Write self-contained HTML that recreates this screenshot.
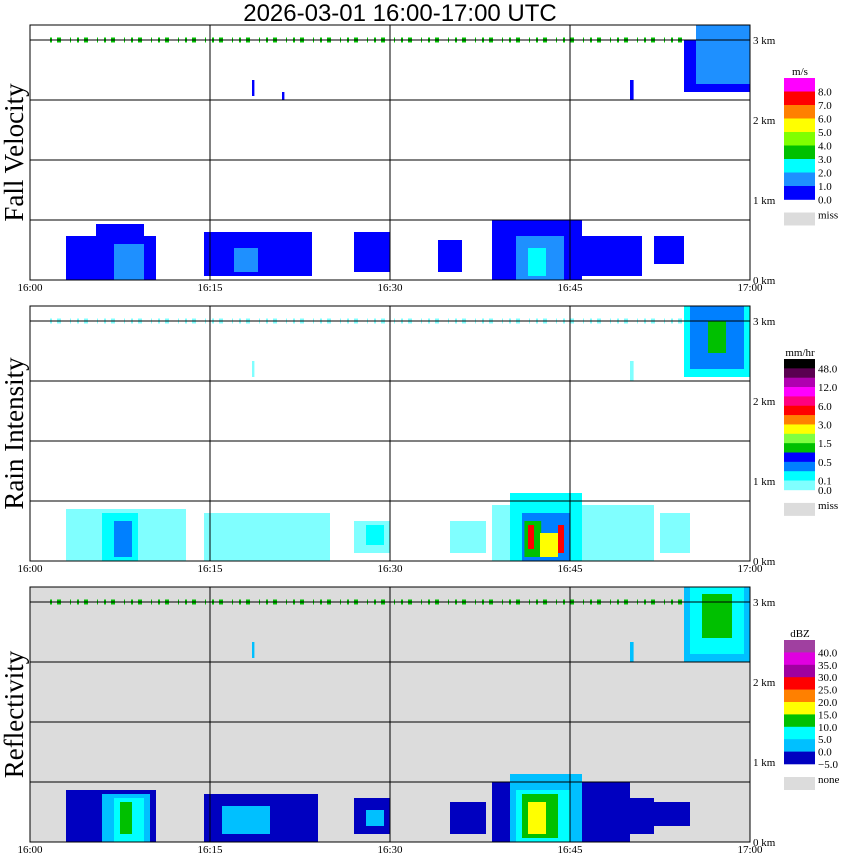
<!DOCTYPE html>
<html><head><meta charset="utf-8"><style>
body{margin:0;background:#fff;}
svg{display:block;font-family:"Liberation Serif",serif;}
</style></head><body>
<svg id="chart" width="850" height="868" viewBox="0 0 850 868"></svg>
<script>
// ---- data ----
const timeTicks = ["16:00","16:15","16:30","16:45","17:00"];
const kmTicks = [0,1,2,3];
const panelTitles = ["Fall Velocity","Rain Intensity","Reflectivity"];
// blobs: [startMin, endMin, baseKm, topKm, value]
const fallVelocity = [
 [3,10.5,0,0.55,0.5],[5.5,9.5,0.05,0.7,0.5],[7,9.5,0,0.45,1.5],
 [14.5,23.5,0.05,0.6,0.5],[17,19,0.1,0.4,1.5],[27,30,0.1,0.6,0.5],
 [34,36,0.1,0.5,0.5],[38.5,46,0,0.75,0.5],[40.5,44.5,0,0.55,1.5],[41.5,43,0.05,0.4,2.5],
 [46,51,0.05,0.55,0.5],[52,54.5,0.2,0.55,0.5],
 [54.5,60,2.35,3.0,0.5],[55.5,60,2.45,3.2,1.5],
 [18.5,18.7,2.3,2.5,0.5],[21,21.2,2.25,2.35,0.5],[50,50.3,2.25,2.5,0.5]
];
const rainRate = [
 [3,13,0,0.65,0.05],[6,9,0,0.6,0.15],[7,8.5,0.05,0.5,0.3],
 [14.5,25,0,0.6,0.05],[27,30,0.1,0.5,0.05],[28,29.5,0.2,0.45,0.15],
 [35,38,0.1,0.5,0.05],[38.5,52,0,0.7,0.05],[40,46,0,0.85,0.15],[41,45,0,0.6,0.4],
 [41.2,42.6,0.05,0.5,1.2],[41.5,42,0.15,0.45,4],[42.5,44,0.05,0.35,2.5],[44,44.5,0.1,0.45,4],
 [52.5,55,0.1,0.6,0.05],
 [54.5,60,2.3,3.2,0.15],[55,59.5,2.4,3.2,0.4],[56.5,58,2.6,3,1.2],
 [18.5,18.7,2.3,2.5,0.05],[50,50.3,2.25,2.5,0.05]
];
const reflectivity = [
 [3,10.5,0,0.65,-2],[6,10,0,0.6,3],[7,9.5,0,0.55,7],[7.5,8.5,0.1,0.5,12],
 [14.5,24,0,0.6,-2],[16,20,0.1,0.45,3],[27,30,0.1,0.55,-2],[28,29.5,0.2,0.4,3],
 [35,38,0.1,0.5,-2],[38.5,50,0,0.75,-2],[40,46,0,0.85,3],[40.5,45,0,0.65,7],
 [41,44,0.05,0.6,12],[41.5,43,0.1,0.5,17],[46,52,0.1,0.55,-2],[52,55,0.2,0.5,-2],
 [54.5,60,2.25,3.2,3],[55,59.5,2.35,3.2,7],[56,58.5,2.55,3.1,12],
 [18.5,18.7,2.3,2.5,3],[50,50.3,2.25,2.5,3]
];
const fvColors = ["#0000ff","#1e90ff","#00ffff","#00c000","#80ff00","#ffff00","#ff8000","#ff0000","#ff00ff"];
const fvBounds = [0,1,2,3,4,5,6,7,8];
const fvLabels = ["8.0","7.0","6.0","5.0","4.0","3.0","2.0","1.0","0.0"];
const rrColors = ["#80ffff","#00ffff","#0080ff","#0000ff","#00c000","#80ff40","#ffff00","#ff8000","#ff0000","#ff0080","#ff00ff","#b000b0","#5a0050","#000000"];
const rrBounds = [0,0.1,0.25,0.5,1,1.5,2,3,4,6,8,12,24,48];
const rrLabels = ["48.0","","12.0","","6.0","","3.0","","1.5","","0.5","","0.1","0.0"];
const dbzColors = ["#0000c0","#00c0ff","#00ffff","#00c000","#ffff00","#ff8000","#ff0000","#a000a0","#e000e0","#a040a0"];
const dbzBounds = [-5,0,5,10,15,20,25,30,35,40];
const dbzLabels = ["40.0","35.0","30.0","25.0","20.0","15.0","10.0","5.0","0.0","\u22125.0"];

// ---- geometry ----
const svg = document.getElementById('chart');
const NS = "http://www.w3.org/2000/svg";
const X0 = 30, X1 = 750, PH = 255;
const tops = [25,306,587];
const xScale = m => X0 + m*(X1-X0)/60;
const yScale = (km, top) => top + PH - km*80;
function mk(tag, attrs, parent){const e=document.createElementNS(NS,tag);for(const k in attrs)e.setAttribute(k,attrs[k]);(parent||svg).appendChild(e);return e;}
function colorFor(v, bounds, colors){let i=0;for(let k=0;k<bounds.length;k++) if(v>=bounds[k]) i=k;return colors[i];}

const title = mk('text',{x:400,y:21,'text-anchor':'middle','font-size':24,'font-family':'"Liberation Sans",sans-serif'});
title.textContent = "2026-03-01   16:00-17:00 UTC";
title.setAttribute('xml:space','preserve');



const datasets = [[fallVelocity,fvBounds,fvColors],[rainRate,rrBounds,rrColors],[reflectivity,dbzBounds,dbzColors]];
const bars = [
 {colors:fvColors,labels:fvLabels,unit:"m/s",miss:"miss",x:784,y:78,h:13.5,name:'fall-velocity'},
 {colors:rrColors,labels:rrLabels,unit:"mm/hr",miss:"miss",x:784,y:359,h:9.35,name:'rain-intensity'},
 {colors:dbzColors,labels:dbzLabels,unit:"dBZ",miss:"none",x:784,y:640,h:12.4,name:'reflectivity'}
];
const speckColors = ["#00c000","#80ffff","#00c000"];

tops.forEach((top,p)=>{
  const g = mk('g',{});
  
  
  const bg = mk('rect',{x:X0,y:top,width:X1-X0,height:PH,fill:p===2?'#dcdcdc':'#fff'},g);
  
  
  const [data,bounds,colors] = datasets[p];
  data.forEach(d=>{
    const x=xScale(d[0]), x2=xScale(d[1]), y=yScale(d[3],top), y2=yScale(d[2],top);
    const r = mk('rect',{x:x,y:Math.max(y,top),width:x2-x,height:y2-Math.max(y,top),fill:colorFor(d[4],bounds,colors)},g);
    
    
  });
  const sp = mk('line',{x1:X0+20,x2:X1-60,y1:top+15,y2:top+15,stroke:speckColors[p],'stroke-width':5,'stroke-dasharray':'2 5 4 9 1 6'},g);
  
  
  [15,75,135,195].forEach(off=>{
    const l = mk('line',{x1:X0,x2:X1,y1:top+off,y2:top+off,stroke:'#000','stroke-width':1},g);
    
    
  });
  [1,2,3].forEach(i=>{
    const xx = xScale(i*15);
    const l = mk('line',{x1:xx,x2:xx,y1:top,y2:top+PH,stroke:'#000','stroke-width':1},g);
    
    
  });
  const fr = mk('rect',{x:X0,y:top,width:X1-X0,height:PH,fill:'none',stroke:'#000','stroke-width':1},g);
  
  
  timeTicks.forEach((t,i)=>{
    const tx = mk('text',{x:xScale(i*15),y:top+PH+11,'text-anchor':'middle','font-size':11},g);
    tx.textContent=t;
    
    
  });
  kmTicks.forEach(k=>{
    const tx = mk('text',{x:X1+3,y:yScale(k,top)+4,'font-size':11},g);
    tx.textContent=k+" km";
    
    
  });
  const yl = mk('text',{x:0,y:0,'text-anchor':'middle','font-size':27,transform:`translate(23,${top+PH/2}) rotate(-90)`},g);
  yl.textContent = panelTitles[p];
  
  
  const b = bars[p];
  const cg = mk('g',{},g);
  
  
  const n = b.colors.length;
  const ut = mk('text',{x:b.x+16,y:b.y-3,'text-anchor':'middle','font-size':11},cg);
  ut.textContent=b.unit;
  
  
  for(let i=0;i<n;i++){
    const c = b.colors[n-1-i];
    const r = mk('rect',{x:b.x,y:b.y+i*b.h,width:31,height:b.h+0.3,fill:c},cg);
    
    
    const lab = b.labels[i];
    if(lab){
      const tx = mk('text',{x:b.x+34,y:b.y+(i+1)*b.h+4,'font-size':11},cg);
      tx.textContent=lab;
      
      
    }
  }
  const my = b.y+n*b.h+13;
  const mr = mk('rect',{x:b.x,y:my,width:31,height:13,fill:'#dcdcdc'},cg);
  
  
  const mt = mk('text',{x:b.x+34,y:my+6,'font-size':11},cg);
  mt.textContent=b.miss;
  
  
});
</script>
</body></html>
